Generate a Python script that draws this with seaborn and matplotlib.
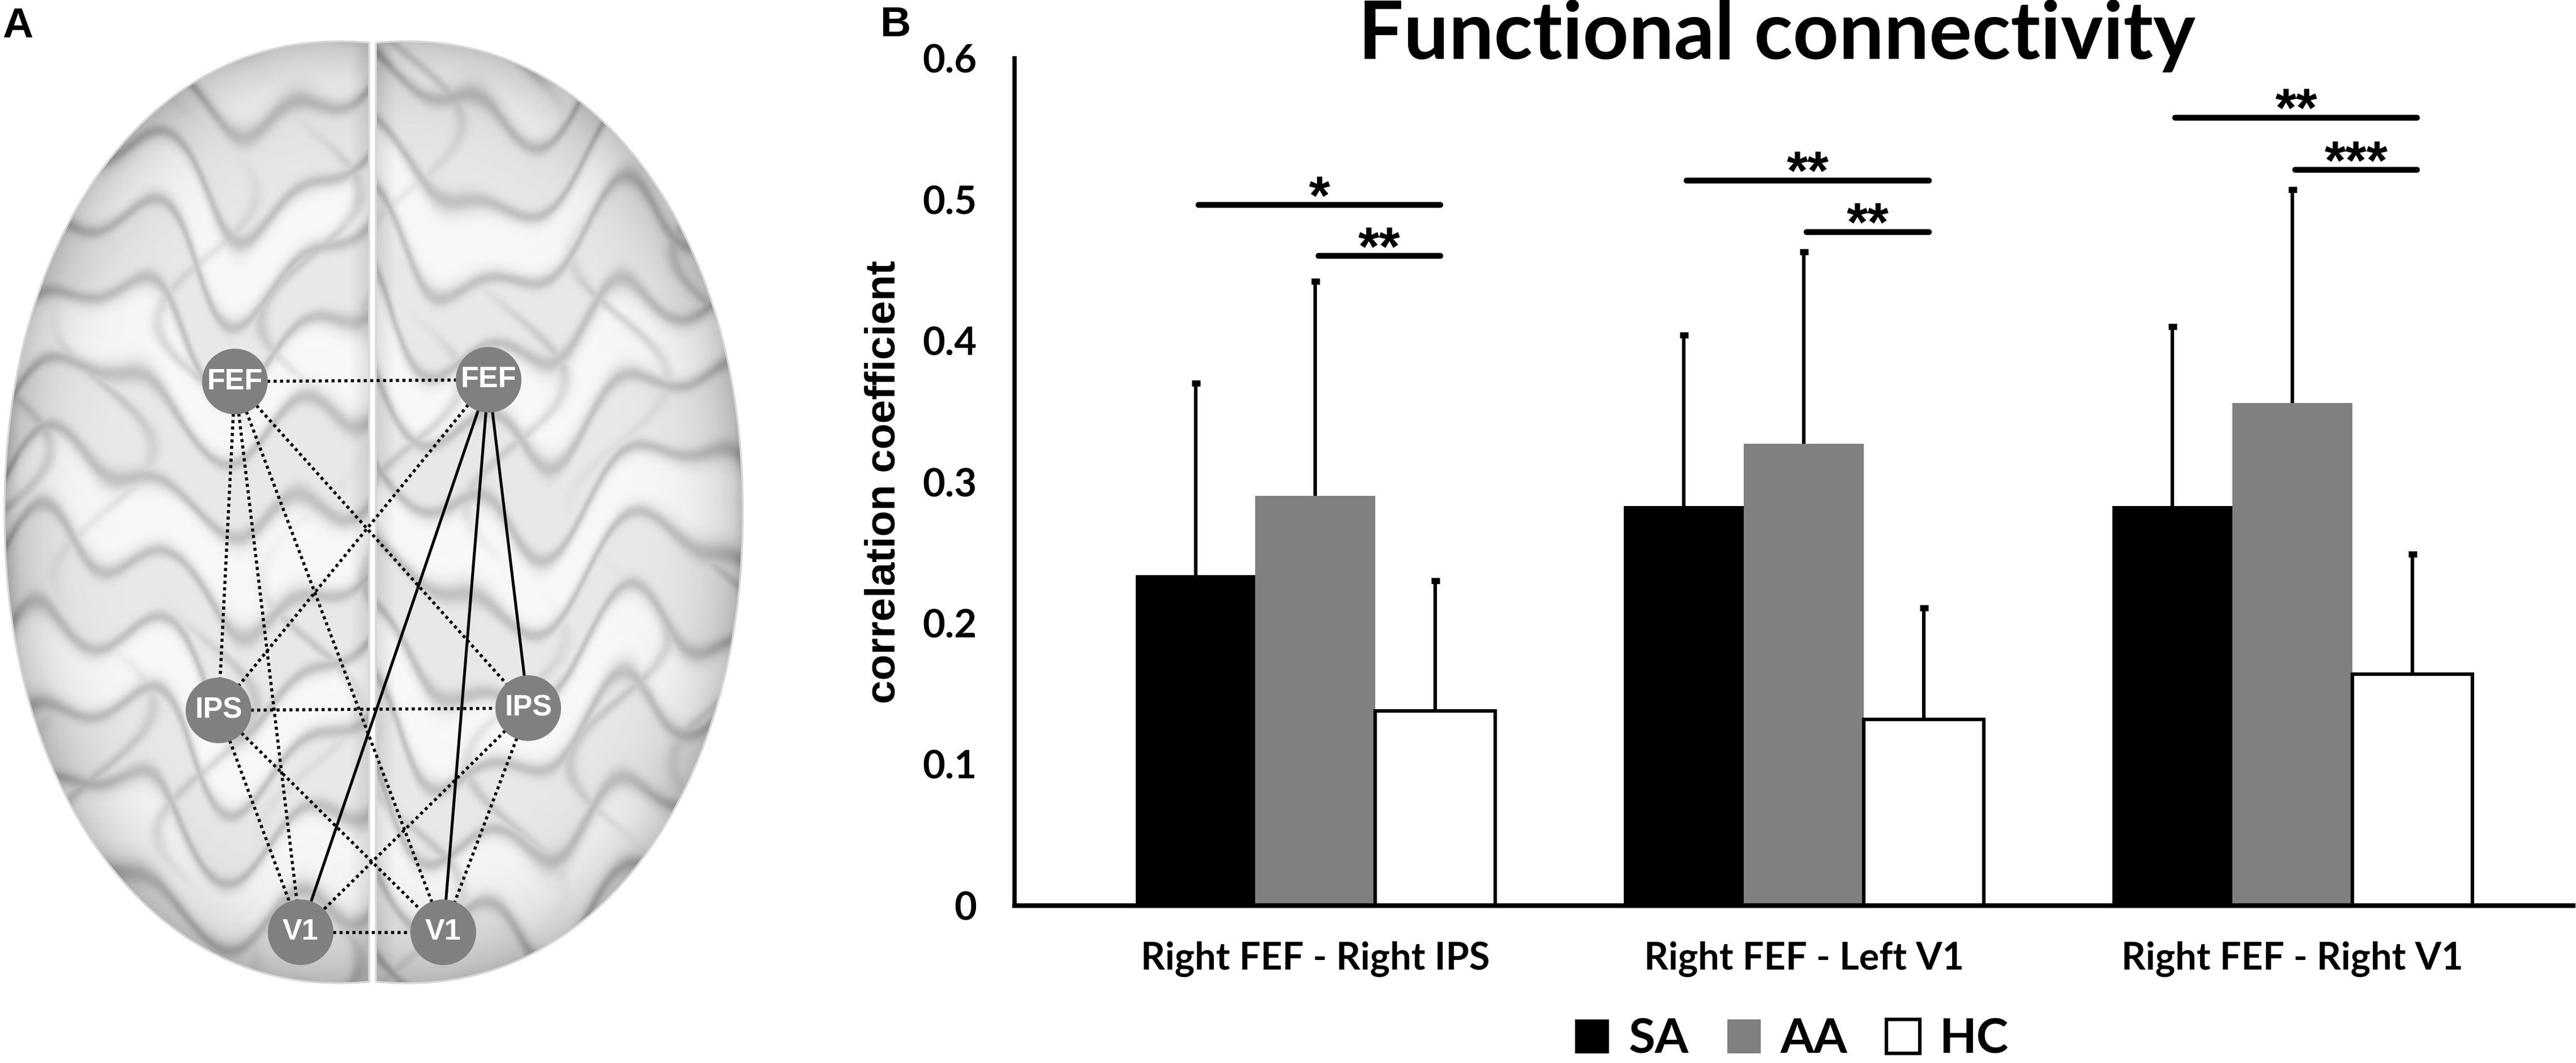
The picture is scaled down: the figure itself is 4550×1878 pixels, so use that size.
import numpy as np
import pandas as pd
import seaborn as sns
import matplotlib.pyplot as plt
import matplotlib.patches as mpatches

# ---- data ----
pairs = ["Right FEF - Right IPS", "Right FEF - Left V1", "Right FEF - Right V1"]
groups = ["SA", "AA", "HC"]
sa_mean = [0.234, 0.283, 0.283]
sa_sd = [0.136, 0.121, 0.127]
aa_mean = [0.290, 0.327, 0.356]
aa_sd = [0.152, 0.136, 0.151]
hc_mean = [0.138, 0.132, 0.164]
hc_sd = [0.092, 0.079, 0.085]

# significance brackets: pair index, from group, to group, height, stars
sig_pair = [0, 0, 1, 1, 2, 2]
sig_from = [0, 1, 0, 1, 0, 1]
sig_to = [2, 2, 2, 2, 2, 2]
sig_y = [0.496, 0.460, 0.5135, 0.477, 0.558, 0.521]
sig_label = ["*", "**", "**", "**", "**", "***"]

y_ticks = [0, 0.1, 0.2, 0.3, 0.4, 0.5, 0.6]
y_tick_labels = ["0", "0.1", "0.2", "0.3", "0.4", "0.5", "0.6"]

# network in panel A (image pixel coordinates)
node_names = ["FEF", "FEF", "IPS", "IPS", "V1", "V1"]
node_x = [415, 863, 386, 933, 531, 783]
node_y = [674, 671, 1255, 1251, 1647, 1647]
solid_edges = [(1, 4), (1, 5), (1, 3)]
dotted_edges = [(0, 1), (0, 2), (0, 4), (0, 5), (0, 3), (1, 2),
                (2, 3), (2, 4), (2, 5), (3, 4), (3, 5), (4, 5)]

bar_colors = ["#000000", "#808080", "#ffffff"]

sns.set_style("white")
plt.rcParams["font.family"] = ["Lato", "DejaVu Sans"]
plt.rcParams["font.weight"] = "bold"
for key in ["text.color", "axes.labelcolor", "xtick.color", "ytick.color", "axes.edgecolor"]:
    plt.rcParams[key] = "black"
arial = ["Liberation Sans", "DejaVu Sans"]

W, H = 4550, 1878
fig = plt.figure(figsize=(W / 300, H / 300), dpi=300)

# ---------------- panel A: brain sketch ----------------
axA = fig.add_axes([0, 0, 1330 / W, 1])
axA.set_xlim(0, 1330)
axA.set_ylim(H, 0)
axA.axis("off")


def hemi(cx, a, cy, b, n, lo, hi):
    t = np.linspace(0, 2 * np.pi, 600)
    x = cx + a * np.sign(np.cos(t)) * np.abs(np.cos(t)) ** (2 / n)
    y = cy + b * np.sign(np.sin(t)) * np.abs(np.sin(t)) ** (2 / n)
    return np.column_stack([np.clip(x, lo, hi), y])


xx, yy = np.meshgrid(np.arange(0, 1330, 3.0), np.arange(0, H, 3.0))
for cx, a, lo, hi, ph in [(600, 592, 0, 652, 0.0), (718, 594, 664, 1330, 1.7)]:
    verts = hemi(cx, a, 905, 832, 2.1, lo, hi)
    r = (np.abs((xx - cx) / a) ** 2.1 + np.abs((yy - 905) / 832) ** 2.1) ** (1 / 2.1)
    g1 = np.sin(yy / 46.0 + 1.7 * np.sin(xx / 95.0 + ph) + 0.9 * np.sin(xx / 37.0 + 2 * ph)
                + 0.7 * np.sin(yy / 130.0 + xx / 60.0))
    g2 = np.sin(xx / 58.0 + 1.5 * np.sin(yy / 72.0 + ph))
    s1 = np.exp(-(g1 / 0.3) ** 2)
    s2 = np.exp(-(g2 / 0.22) ** 2) * (0.5 + 0.5 * np.sin(yy / 110.0 + xx / 150.0 + ph))
    sulc = np.maximum(s1, 0.8 * s2)
    hi_l = np.exp(-((g1 - 0.9) / 0.5) ** 2)
    shade = 0.91 + 0.06 * hi_l - 0.15 * sulc - 0.20 * r ** 10
    med = np.clip(1 - np.minimum(np.abs(xx - lo), np.abs(xx - hi)) / 35.0, 0, 1)
    shade = np.clip(shade - 0.10 * med, 0, 1)
    poly = mpatches.Polygon(verts, closed=True, facecolor="none",
                            edgecolor="#d8d8d8", lw=0.8, zorder=2)
    axA.add_patch(poly)
    im = axA.imshow(shade, cmap="gray", vmin=0, vmax=1, extent=(0, 1330, H, 0),
                    interpolation="bilinear", zorder=1, aspect="auto")
    im.set_clip_path(poly)

for i, j in dotted_edges:
    axA.plot([node_x[i], node_x[j]], [node_y[i], node_y[j]], color="black",
             lw=1.3, linestyle=(0, (1, 1.1)), zorder=3)
for i, j in solid_edges:
    axA.plot([node_x[i], node_x[j]], [node_y[i], node_y[j]], color="black",
             lw=1.2, zorder=3)
for name, x, y in zip(node_names, node_x, node_y):
    axA.add_patch(mpatches.Circle((x, y), 58, facecolor="#808080",
                                  edgecolor="none", zorder=4))
    axA.text(x, y, name, ha="center", va="center", color="white",
             fontsize=12.5, fontweight="bold", family=arial, zorder=5)

fig.text(4 / W, 1 - 12 / H, "A", ha="left", va="top", fontsize=18,
         fontweight="bold", family=arial)

# ---------------- panel B: bar chart ----------------
ax = fig.add_axes([1792 / W, 1 - 1600 / H, (4545 - 1792) / W, (1600 - 103) / H])

df = pd.DataFrame({
    "pair": pairs * 3,
    "group": np.repeat(groups, 3),
    "mean": sa_mean + aa_mean + hc_mean,
    "sd": sa_sd + aa_sd + hc_sd,
})
sns.barplot(data=df, x="pair", y="mean", hue="group", order=pairs,
            hue_order=groups, palette=bar_colors, saturation=1, width=0.737,
            errorbar=None, legend=False, linewidth=0, ax=ax)

sds = [sa_sd, aa_sd, hc_sd]
bars = sorted([p for p in ax.patches if isinstance(p, mpatches.Rectangle)],
              key=lambda p: p.get_x())
centers = [[0.0] * 3 for _ in groups]
for idx, p in enumerate(bars):
    pi, k = idx // 3, idx % 3
    xc = p.get_x() + p.get_width() / 2
    top = p.get_height() + sds[k][pi]
    centers[k][pi] = xc
    p.set_zorder(2)
    if k == 2:
        p.set_edgecolor("black")
        p.set_linewidth(1.5)
    ax.errorbar([xc], [p.get_height()], yerr=[[0], [sds[k][pi]]], fmt="none",
                ecolor="black", elinewidth=1.5, capsize=0, zorder=1)
    ax.plot([xc], [top], marker="_", ms=3.6, mew=2.6, color="black", zorder=1)

for pi, gf, gt, y, lab in zip(sig_pair, sig_from, sig_to, sig_y, sig_label):
    x0 = centers[gf][pi] + 0.006
    x1 = centers[gt][pi] + 0.01
    ax.plot([x0, x1], [y, y], color="black", lw=2.5, solid_capstyle="round",
            zorder=3, clip_on=False)
    ax.annotate(lab, ((x0 + x1) / 2, y), xytext=(0, -3.5), textcoords="offset points",
                ha="center", va="baseline", fontsize=23, fontweight="bold",
                family=arial)

ax.set_xlim(-0.616, 2.575)
ax.set_ylim(0, 0.6)
ax.set_yticks(y_ticks)
ax.set_yticklabels(y_tick_labels)
ax.set_xlabel("")
ax.set_ylabel("correlation coefficient", fontsize=18, fontweight="bold",
              family=arial, labelpad=8)
for s in ["top", "right"]:
    ax.spines[s].set_visible(False)
ax.spines["left"].set_linewidth(1.8)
ax.spines["bottom"].set_linewidth(2.0)
ax.tick_params(axis="y", direction="in", length=2.4, width=1.8, pad=16,
               labelsize=16.5)
ax.tick_params(axis="x", length=0, pad=15, labelsize=16)
for t in ax.get_xticklabels() + ax.get_yticklabels():
    t.set_fontweight("bold")

fig.text(3138 / W, 1 - 104 / H, "Functional connectivity", ha="center",
         va="baseline", fontsize=34, fontweight="bold")
fig.text(1555 / W, 1 - 10 / H, "B", ha="left", va="top", fontsize=18,
         fontweight="bold", family=arial)

handles = [mpatches.Patch(facecolor=c, edgecolor="black", linewidth=1.5 if i == 2 else 0)
           for i, c in enumerate(bar_colors)]
fig.legend(handles, groups, loc="center", bbox_to_anchor=(3165 / W, 1 - 1836 / H),
           ncol=3, frameon=False, handlelength=0.7, handleheight=0.7,
           handletextpad=0.4, columnspacing=0.8, borderpad=0,
           prop={"weight": "bold", "size": 20.5})

fig.savefig("out.png", dpi=300, facecolor="white")
